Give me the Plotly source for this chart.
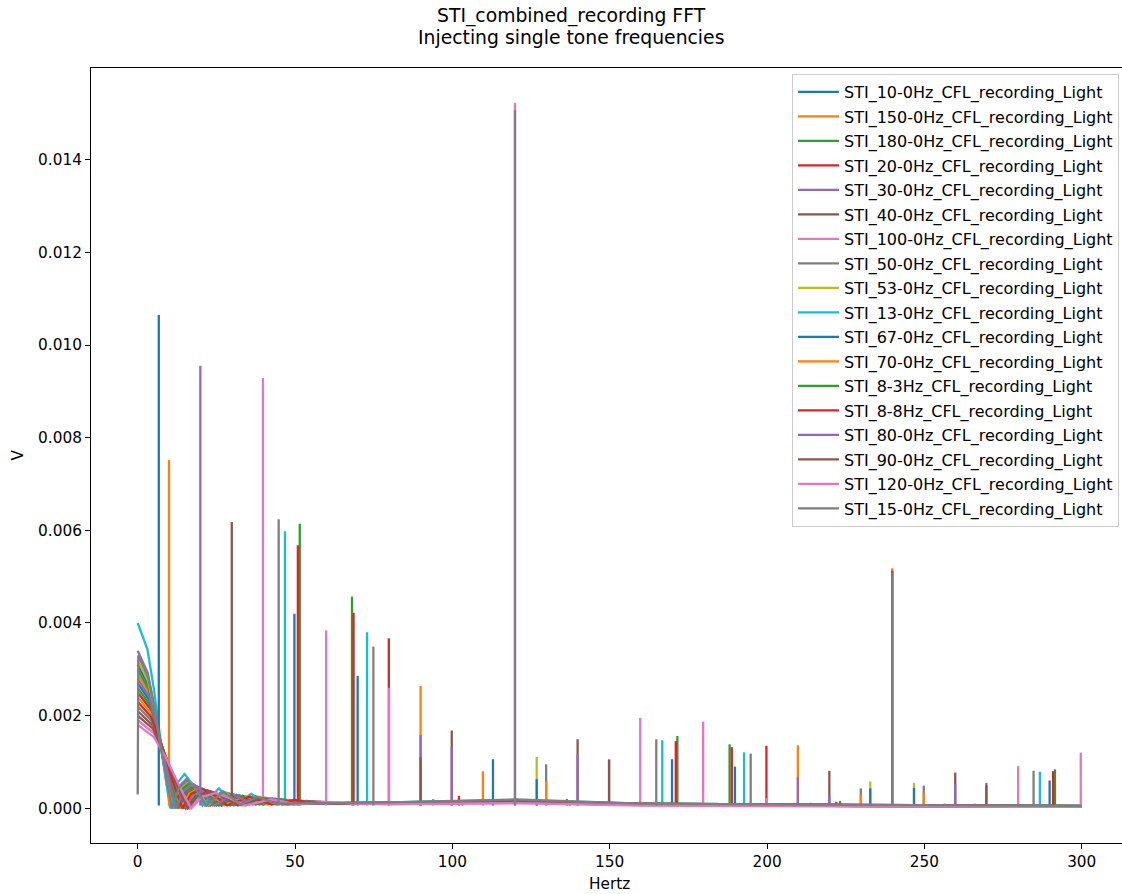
import plotly.graph_objects as go

# ---------------- data ----------------
NAMES = [
    "STI_10-0Hz_CFL_recording_Light", "STI_150-0Hz_CFL_recording_Light",
    "STI_180-0Hz_CFL_recording_Light", "STI_20-0Hz_CFL_recording_Light",
    "STI_30-0Hz_CFL_recording_Light", "STI_40-0Hz_CFL_recording_Light",
    "STI_100-0Hz_CFL_recording_Light", "STI_50-0Hz_CFL_recording_Light",
    "STI_53-0Hz_CFL_recording_Light", "STI_13-0Hz_CFL_recording_Light",
    "STI_67-0Hz_CFL_recording_Light", "STI_70-0Hz_CFL_recording_Light",
    "STI_8-3Hz_CFL_recording_Light", "STI_8-8Hz_CFL_recording_Light",
    "STI_80-0Hz_CFL_recording_Light", "STI_90-0Hz_CFL_recording_Light",
    "STI_120-0Hz_CFL_recording_Light", "STI_15-0Hz_CFL_recording_Light",
]

# low-frequency part of each spectrum (Hertz, V)
LOW_F = [
    [0, 3.4, 5.7, 7.9, 9.6, 11.3, 13.6, 16.4, 19.2, 22.6, 28.3, 33.9, 39.6, 45.2],
    [0, 3.6, 6.0, 8.3, 10.1, 11.9, 14.3, 17.3, 20.2, 23.8, 29.8, 35.7, 41.7, 47.6],
    [0, 3.5, 5.8, 8.1, 9.9, 11.6, 13.9, 16.8, 19.7, 23.2, 29.0, 34.8, 40.6, 46.4],
    [0, 4.0, 6.7, 9.3, 11.3, 13.3, 16.0, 19.3, 22.6, 26.6, 33.3, 39.9, 46.6, 53.2],
    [0, 3.2, 5.4, 7.5, 9.1, 10.7, 12.8, 15.5, 18.2, 21.4, 26.8, 32.1, 37.5, 42.8],
    [0, 4.6, 7.7, 10.7, 13.0, 15.3, 18.4, 22.2, 26.0, 30.6, 38.3, 45.9, 53.6, 61.2],
    [0, 5.0, 8.3, 11.6, 14.0, 16.5, 19.8, 23.9, 28.1, 33.0, 41.3, 49.5, 57.8, 66.0],
    [0, 4.4, 7.4, 10.3, 12.5, 14.7, 17.6, 21.3, 25.0, 29.4, 36.8, 44.1, 51.5, 58.8],
    [0, 3.3, 5.6, 7.8, 9.4, 11.1, 13.3, 16.1, 18.9, 22.2, 27.8, 33.3, 38.9, 44.4],
    [0, 3.1, 5.2, 7.2, 8.8, 10.3, 12.4, 14.9, 17.5, 20.6, 25.8, 30.9, 36.1, 41.2],
    [0, 3.8, 6.3, 8.8, 10.6, 12.5, 15.0, 18.1, 21.3, 25.0, 31.3, 37.5, 43.8, 50.0],
    [0, 4.1, 6.9, 9.6, 11.7, 13.7, 16.4, 19.9, 23.3, 27.4, 34.3, 41.1, 48.0, 54.8],
    [0, 3.9, 6.5, 9.0, 11.0, 12.9, 15.5, 18.7, 21.9, 25.8, 32.3, 38.7, 45.2, 51.6],
    [0, 4.3, 7.1, 9.9, 12.1, 14.2, 17.0, 20.6, 24.1, 28.4, 35.5, 42.6, 49.7, 56.8],
    [0, 3.7, 6.1, 8.5, 10.4, 12.2, 14.6, 17.7, 20.7, 24.4, 30.5, 36.6, 42.7, 48.8],
    [0, 4.8, 8.0, 11.1, 13.5, 15.9, 19.1, 23.1, 27.0, 31.8, 39.8, 47.7, 55.7, 63.6],
    [0, 5.1, 8.5, 11.9, 14.5, 17.0, 20.4, 24.7, 28.9, 34.0, 42.5, 51.0, 59.5, 68.0],
    [0, 0.2, 3.3, 5.5, 7.6, 9.3, 10.9, 13.1, 15.8, 18.5, 21.8, 27.3, 32.7, 38.2, 43.6],
]
LOW_V = [
    [.0031, .00266, .00197, .00114, .00053, 0, .00041, .00057, .00040, .00006, .00033, .00008, .00024, .00010],
    [.0029, .00249, .00185, .00107, .00049, 0, .00039, .00053, .00037, .00006, .00031, .00008, .00022, .00010],
    [.0030, .00257, .00191, .00110, .00051, 0, .00040, .00055, .00038, .00006, .00032, .00008, .00023, .00010],
    [.0025, .00215, .00159, .00092, .00043, 0, .00033, .00046, .00032, .00006, .00027, .00008, .00019, .00010],
    [.0034, .00292, .00217, .00125, .00058, 0, .00045, .00063, .00044, .00006, .00037, .00008, .00026, .00010],
    [.0021, .00180, .00134, .00077, .00036, 0, .00028, .00039, .00027, .00006, .00023, .00008, .00016, .00010],
    [.0019, .00163, .00121, .00070, .00032, 0, .00025, .00035, .00024, .00006, .00021, .00008, .00015, .00010],
    [.0022, .00189, .00140, .00081, .00037, 0, .00029, .00040, .00028, .00006, .00024, .00008, .00017, .00010],
    [.0032, .00275, .00204, .00118, .00054, 0, .00043, .00059, .00041, .00006, .00035, .00008, .00025, .00010],
    [.0040, .00343, .00255, .00147, .00068, 0, .00053, .00074, .00051, .00006, .00043, .00008, .00031, .00010],
    [.0027, .00232, .00172, .00099, .00046, 0, .00036, .00050, .00035, .00006, .00029, .00008, .00021, .00010],
    [.0024, .00206, .00153, .00088, .00041, 0, .00032, .00044, .00031, .00006, .00026, .00008, .00018, .00010],
    [.0026, .00223, .00166, .00096, .00044, 0, .00035, .00048, .00033, .00006, .00028, .00008, .00020, .00010],
    [.0023, .00197, .00147, .00085, .00039, 0, .00031, .00042, .00029, .00006, .00025, .00008, .00018, .00010],
    [.0028, .00240, .00178, .00103, .00048, 0, .00037, .00052, .00036, .00006, .00030, .00008, .00022, .00010],
    [.0020, .00172, .00127, .00074, .00034, 0, .00027, .00037, .00026, .00006, .00022, .00008, .00015, .00010],
    [.0018, .00154, .00115, .00066, .00031, 0, .00024, .00033, .00023, .00006, .00019, .00008, .00014, .00010],
    [.0003, .0033, .00283, .00210, .00121, .00056, 0, .00044, .00061, .00042, .00006, .00036, .00008, .00025, .00010],
]

# noise floor above the low-frequency part
TAIL_F = [80, 120, 160, 230, 300]
TAIL_V = [
    [.00012, .00015, .00009, .00006, .00004],
    [.00011, .00014, .00008, .00005, .00004],
    [.00013, .00016, .00010, .00007, .00005],
    [.00010, .00013, .00008, .00006, .00004],
    [.00012, .00014, .00009, .00006, .00003],
    [.00011, .00015, .00010, .00007, .00005],
    [.00009, .00012, .00007, .00005, .00003],
    [.00012, .00017, .00009, .00006, .00004],
    [.00011, .00014, .00008, .00005, .00004],
    [.00013, .00018, .00010, .00007, .00005],
    [.00010, .00013, .00008, .00005, .00003],
    [.00011, .00015, .00009, .00006, .00004],
    [.00012, .00014, .00009, .00006, .00004],
    [.00011, .00013, .00008, .00005, .00003],
    [.00010, .00014, .00009, .00006, .00004],
    [.00012, .00016, .00010, .00007, .00005],
    [.00009, .00011, .00006, .00004, .00003],
    [.00013, .00019, .00010, .00007, .00005],
]

# spectral lines (Hertz, V)
PEAK_F = [
    [49.8, 69.9, 169.8, 189.8, 289.8],
    [89.9, 209.8],
    [],
    [79.8, 199.8],
    [89.9, 149.8, 209.8, 269.7],
    [99.8, 139.8, 219.8, 259.8],
    [39.8, 79.9, 159.7, 199.8, 279.8],
    [129.8, 229.8, 249.8],
    [126.8, 232.8, 246.7],
    [46.8, 72.9, 93.9, 145.8, 166.7, 192.7, 213.8, 266.0, 286.7],
    [6.7, 112.9, 126.8, 232.8, 246.7],
    [9.95, 109.7, 129.8, 229.8, 239.8, 249.8],
    [51.5, 68.1, 103.2, 136.4, 171.5, 188.1, 223.2, 256.5, 291.5],
    [50.9, 68.6, 102.1, 137.3, 171.0, 188.8, 222.0, 259.7, 290.9],
    [19.9, 99.8, 139.8, 219.8, 259.8],
    [29.9, 89.9, 149.8, 239.8, 269.7],
    [59.9, 119.9, 179.7, 299.7],
    [44.8, 74.9, 119.9, 164.8, 194.8, 239.8, 284.7],
]
PEAK_V = [
    [.00420, .00286, .00106, .00090, .00060],
    [.00264, .00136],
    [],
    [.00367, .00135],
    [.00158, .00106, .00067, .00055],
    [.00168, .00149, .00081, .00077],
    [.00929, .00260, .00195, .00022, .00091],
    [.00095, .00043, .00049],
    [.00111, .00058, .00055],
    [.00598, .00380, .00020, .00015, .00147, .00121, .00012, .00010, .00079],
    [.01065, .00106, .00063, .00043, .00044],
    [.00752, .00080, .00058, .00030, .00518, .00034],
    [.00614, .00457, .00016, .00020, .00156, .00138, .00016, .00010, .00084],
    [.00568, .00422, .00027, .00015, .00145, .00132, .00014, .00010, .00080],
    [.00955, .00132, .00118, .00027, .00052],
    [.00618, .00110, .00104, .00513, .00050],
    [.00384, .01523, .00187, .00120],
    [.00624, .00349, .01508, .00149, .00118, .00508, .00081],
]
PEAK_BASE = 0.00006

X_TICKS = [0, 50, 100, 150, 200, 250, 300]
Y_TICKS = [0.000, 0.002, 0.004, 0.006, 0.008, 0.010, 0.012, 0.014]

TITLE_1 = "STI_combined_recording FFT"
TITLE_2 = "Injecting single tone frequencies"

# ---------------- style ----------------
TAB10 = ["#1f77b4", "#ff7f0e", "#2ca02c", "#d62728", "#9467bd",
         "#8c564b", "#e377c2", "#7f7f7f", "#bcbd22", "#17becf"]
FONT = "DejaVu Sans"
FS = 15.3
LEG_FS = 16

fig = go.Figure()
for i, name in enumerate(NAMES):
    xs = list(LOW_F[i]) + list(TAIL_F)
    ys = list(LOW_V[i]) + list(TAIL_V[i])
    for f, v in zip(PEAK_F[i], PEAK_V[i]):
        xs += [None, f, f]
        ys += [None, PEAK_BASE, v]
    fig.add_trace(go.Scatter(
        x=xs, y=ys, mode="lines", name=name,
        line=dict(color=TAB10[i % 10], width=2.3),
        legendgroup=str(i), connectgaps=False,
        hoverinfo="skip",
    ))

W, H = 1122, 894
ML, MR, MT, MB = 91, 0, 68, 51
PLOT_W = W - ML - MR
PLOT_H = H - MT - MB

def py(pix_y):
    return (H - MB - pix_y) / PLOT_H

def px(pix_x):
    return (pix_x - ML) / PLOT_W

axis_common = dict(
    showgrid=False, zeroline=False, showline=True, linecolor="black",
    linewidth=1.1, ticks="outside", ticklen=5, tickwidth=1.1,
    tickcolor="black", tickfont=dict(family=FONT, size=FS, color="black"),
)

fig.update_layout(
    width=W, height=H,
    margin=dict(l=ML, r=MR, t=MT, b=MB, pad=0),
    paper_bgcolor="white", plot_bgcolor="white",
    font=dict(family=FONT, size=FS, color="black"),
    showlegend=True,
    legend=dict(
        x=px(1119), y=py(74),
        xanchor="right", yanchor="top",
        bgcolor="rgba(255,255,255,0.8)", bordercolor="#cccccc", borderwidth=1,
        font=dict(family=FONT, size=LEG_FS, color="black"),
        tracegroupgap=0.7, traceorder="grouped", itemwidth=41,
    ),
    xaxis=dict(range=[-14.84, 312.8], tickvals=X_TICKS,
               ticktext=[str(t) for t in X_TICKS], mirror=True, **axis_common),
    yaxis=dict(range=[-0.000749, 0.015979], tickvals=Y_TICKS,
               ticktext=[f"{t:.3f}" for t in Y_TICKS], mirror=False, **axis_common),
    annotations=[
        dict(text=TITLE_1, xref="paper", yref="paper", x=px(571), y=py(16),
             xanchor="center", yanchor="middle", showarrow=False,
             font=dict(family=FONT, size=18.8, color="black")),
        dict(text=TITLE_2, xref="paper", yref="paper", x=px(571), y=py(38),
             xanchor="center", yanchor="middle", showarrow=False,
             font=dict(family=FONT, size=18.8, color="black")),
        dict(text="Hertz", xref="x", yref="paper", x=150, y=py(884),
             xanchor="center", yanchor="middle", showarrow=False,
             font=dict(family=FONT, size=FS, color="black")),
        dict(text="V", xref="paper", yref="paper", x=px(17), y=0.5,
             xanchor="center", yanchor="middle", textangle=-90, showarrow=False,
             font=dict(family=FONT, size=FS, color="black")),
    ],
)

fig.write_html("out.html")
